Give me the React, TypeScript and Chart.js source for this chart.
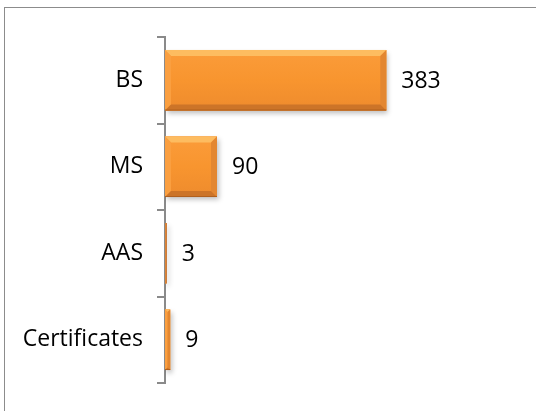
import React, { useEffect, useRef } from "react";
import { Chart, registerables } from "chart.js";

Chart.register(...registerables);

const categories = ["BS", "MS", "AAS", "Certificates"];
const values = [383, 90, 3, 9];
const xMax = 450;

const FONT = "'Open Sans', 'Noto Sans', sans-serif";

const bevelPlugin = {
  id: "bevelBars",
  beforeDatasetsDraw(chart: any) {
    const ctx = chart.ctx;
    ctx.save();
    ctx.shadowColor = "rgba(0,0,0,0.25)";
    ctx.shadowBlur = 5;
    ctx.shadowOffsetX = 2;
    ctx.shadowOffsetY = 3;
  },
  afterDatasetsDraw(chart: any) {
    const ctx = chart.ctx;
    ctx.restore();
    const meta = chart.getDatasetMeta(0);
    meta.data.forEach((bar: any, i: number) => {
      const left = Math.min(bar.base, bar.x);
      const right = Math.max(bar.base, bar.x);
      const top = bar.y - bar.height / 2;
      const bottom = bar.y + bar.height / 2;
      const w = right - left;
      const h = bottom - top;
      ctx.save();
      if (w < 4) {
        const g0 = ctx.createLinearGradient(left, 0, right, 0);
        g0.addColorStop(0, "#e8913c");
        g0.addColorStop(1, "#b8652a");
        ctx.fillStyle = g0;
        ctx.fillRect(left, top, w, h);
      } else {
        const g = ctx.createLinearGradient(0, top, 0, bottom);
        g.addColorStop(0, "#fb9c3a");
        g.addColorStop(0.5, "#f8952f");
        g.addColorStop(1, "#ee8b2d");
        ctx.fillStyle = g;
        ctx.fillRect(left, top, w, h);
        const b = Math.min(6, w / 2, h / 2);
        const poly = (pts: number[][], color: string) => {
          ctx.beginPath();
          ctx.moveTo(pts[0][0], pts[0][1]);
          for (let k = 1; k < pts.length; k++) ctx.lineTo(pts[k][0], pts[k][1]);
          ctx.closePath();
          ctx.fillStyle = color;
          ctx.fill();
        };
        poly([[left, top], [right, top], [right - b, top + b], [left + b, top + b]], "#fdbc60");
        poly([[left, top], [left + b, top + b], [left + b, bottom - b], [left, bottom]], "#fa9f40");
        poly([[right, top], [right, bottom], [right - b, bottom - b], [right - b, top + b]], "#e38731");
        poly([[left, bottom], [left + b, bottom - b], [right - b, bottom - b], [right, bottom]], "#cc7428");
        ctx.fillStyle = "#b0601f";
        ctx.fillRect(left, bottom - 1, w, 1);
      }
      ctx.restore();
      ctx.save();
      ctx.fillStyle = "#000";
      ctx.font = `23px ${FONT}`;
      ctx.textAlign = "left";
      ctx.textBaseline = "middle";
      ctx.fillText(String(values[i]), right + 15, bar.y + 1);
      ctx.restore();
    });
  },
};

export default function App() {
  const ref = useRef<HTMLCanvasElement>(null);
  useEffect(() => {
    if (!ref.current) return;
    const chart = new Chart(ref.current, {
      type: "bar",
      data: {
        labels: categories,
        datasets: [
          {
            data: values,
            backgroundColor: "#f7942f",
            borderWidth: 0,
            barPercentage: 0.7,
            categoryPercentage: 1,
          },
        ],
      },
      options: {
        indexAxis: "y",
        animation: false,
        responsive: true,
        maintainAspectRatio: false,
        layout: { padding: { top: 37, bottom: 28, left: 0, right: 111 } },
        plugins: { legend: { display: false }, tooltip: { enabled: false } },
        scales: {
          x: { display: false, min: 0, max: xMax },
          y: {
            offset: true,
            grid: {
              offset: true,
              drawOnChartArea: false,
              drawTicks: true,
              tickLength: 8,
              color: "#8a8a8a",
              lineWidth: 2,
            },
            border: { display: true, color: "#8a8a8a", width: 2 },
            ticks: {
              color: "#000",
              padding: 14,
              font: { family: FONT, size: 23 },
            },
            afterFit: (scale: any) => {
              scale.width = 165;
            },
          },
        },
      },
      plugins: [bevelPlugin],
    } as any);
    return () => chart.destroy();
  }, []);
  return (
    <div style={{ position: "fixed", left: 0, top: 0, width: 536, height: 411, overflow: "hidden", background: "#fff" }}>
      <div
        style={{
          position: "absolute",
          left: 4,
          top: 7,
          width: 700,
          height: 600,
          borderLeft: "1px solid #8c8c8c",
          borderTop: "1px solid #8c8c8c",
        }}
      />
      <div style={{ position: "absolute", left: 0, top: 0, width: 536, height: 411 }}>
        <canvas ref={ref} />
      </div>
    </div>
  );
}
